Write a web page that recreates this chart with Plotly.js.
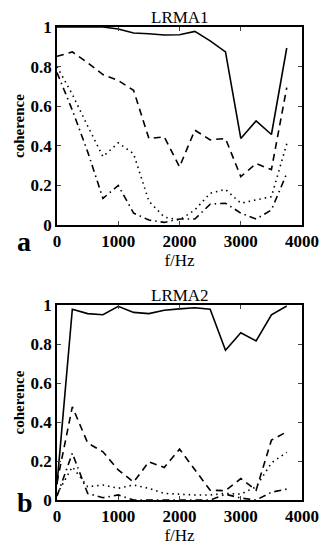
<!DOCTYPE html>
<html>
<head>
<meta charset="utf-8">
<script src="https://cdn.plot.ly/plotly-3.0.1.min.js"></script>
<style>html,body{margin:0;padding:0;background:#fff;}#chart{width:321px;height:547px;}</style>
</head>
<body>
<div id="chart"></div>
<script>
const freq = [0,250,500,750,1000,1250,1500,1750,2000,2250,2500,2750,3000,3250,3500,3750];

// Panel a: LRMA1
const a_solid   = [1.0,1.0,1.0,1.0,0.99,0.97,0.966,0.96,0.961,0.978,0.93,0.874,0.437,0.526,0.457,0.894];
const a_dashed  = [0.852,0.874,0.82,0.76,0.73,0.68,0.437,0.445,0.294,0.479,0.43,0.437,0.244,0.31,0.28,0.694];
const a_dotted  = [0.80,0.66,0.50,0.345,0.415,0.36,0.12,0.04,0.025,0.076,0.16,0.18,0.11,0.126,0.143,0.41];
const a_dashdot = [0.77,0.58,0.37,0.134,0.20,0.06,0.025,0.013,0.03,0.03,0.105,0.11,0.06,0.03,0.076,0.26];

// Panel b: LRMA2
const b_solid   = [0.08,0.978,0.956,0.95,0.993,0.962,0.956,0.973,0.98,0.986,0.978,0.768,0.858,0.816,0.95,0.995];
const b_dashed  = [0.09,0.478,0.293,0.247,0.154,0.092,0.196,0.167,0.261,0.154,0.05,0.048,0.11,0.05,0.307,0.35];
const b_dotted  = [0.03,0.17,0.068,0.077,0.06,0.077,0.06,0.034,0.03,0.026,0.026,0.034,0.03,0.068,0.19,0.245];
const b_dashdot = [0.02,0.24,0.034,0.012,0.026,0.0,0.0,0.0,0.0,0.0,0.0,0.03,0.01,0.0,0.04,0.056];

const yTicks = [0,0.2,0.4,0.6,0.8,1];
const yTickText = ["0","0.2","0.4","0.6","0.8","1"];
const xTicks = [0,1000,2000,3000,4000];
const xTickText = ["0","1000","2000","3000","4000"];
const panelTitles = ["LRMA1","LRMA2"];
const panelLetters = ["a","b"];

const styles = [
  {dash:"solid"},
  {dash:"7px,5px"},
  {dash:"1.5px,4px"},
  {dash:"7px,4px,1.5px,4px"}
];

function tr(y, ax, st){
  return {x:freq, y:y, xaxis:ax[0], yaxis:ax[1], mode:"lines", type:"scatter",
    line:{color:"#000", width:1.6, dash:st.dash}, hoverinfo:"skip", showlegend:false};
}

const data = [
  tr(a_solid,["x","y"],styles[0]), tr(a_dashed,["x","y"],styles[1]),
  tr(a_dotted,["x","y"],styles[2]), tr(a_dashdot,["x","y"],styles[3]),
  tr(b_solid,["x2","y2"],styles[0]), tr(b_dashed,["x2","y2"],styles[1]),
  tr(b_dotted,["x2","y2"],styles[2]), tr(b_dashdot,["x2","y2"],styles[3])
];

const serif = "Liberation Serif, Times New Roman, serif";
const tickFont = {family:serif, size:17, color:"#000", weight:700};
function xax(anchor){
  return {range:[0,4000], tickvals:xTicks, ticktext:xTickText, ticks:"inside", ticklen:4, tickwidth:1,
    mirror:"ticks", showline:true, linecolor:"#000", linewidth:1.8, showgrid:false, zeroline:false,
    tickfont:tickFont, anchor:anchor, domain:[0.1776,0.941],
    title:{text:"f/Hz", font:{family:serif, size:17, color:"#000"}, standoff:0}};
}
function yax(domain, anchor){
  return {range:[0,1], tickvals:yTicks, ticktext:yTickText, ticks:"inside", ticklen:4, tickwidth:1,
    mirror:"ticks", showline:true, linecolor:"#000", linewidth:1.8, showgrid:false, zeroline:false,
    tickfont:tickFont, anchor:anchor, domain:domain,
    title:{text:"coherence", font:{family:serif, size:15, color:"#000", weight:700}, standoff:2}};
}

const layout = {
  width:321, height:547, margin:{l:0,r:0,t:0,b:0},
  paper_bgcolor:"#fff", plot_bgcolor:"#fff", showlegend:false,
  xaxis:xax("y"), yaxis:yax([0.5887,0.9506],"x"),
  xaxis2:xax("y2"), yaxis2:yax([0.0859,0.4424],"x2"),
  annotations:[
    {text:panelTitles[0], xref:"paper", yref:"paper", x:0.56, y:0.9506, yanchor:"bottom", yshift:-2, showarrow:false,
     font:{family:serif, size:17, color:"#000"}},
    {text:panelTitles[1], xref:"paper", yref:"paper", x:0.56, y:0.4424, yanchor:"bottom", yshift:-2, showarrow:false,
     font:{family:serif, size:17, color:"#000"}},
    {text:panelLetters[0], xref:"paper", yref:"paper", x:0.047, y:0.558, showarrow:false,
     font:{family:serif, size:28, color:"#000", weight:700}},
    {text:panelLetters[1], xref:"paper", yref:"paper", x:0.047, y:0.05, showarrow:false,
     font:{family:serif, size:28, color:"#000", weight:700}}
  ]
};

Plotly.newPlot("chart", data, layout, {staticPlot:true, displayModeBar:false});
</script>
</body>
</html>
